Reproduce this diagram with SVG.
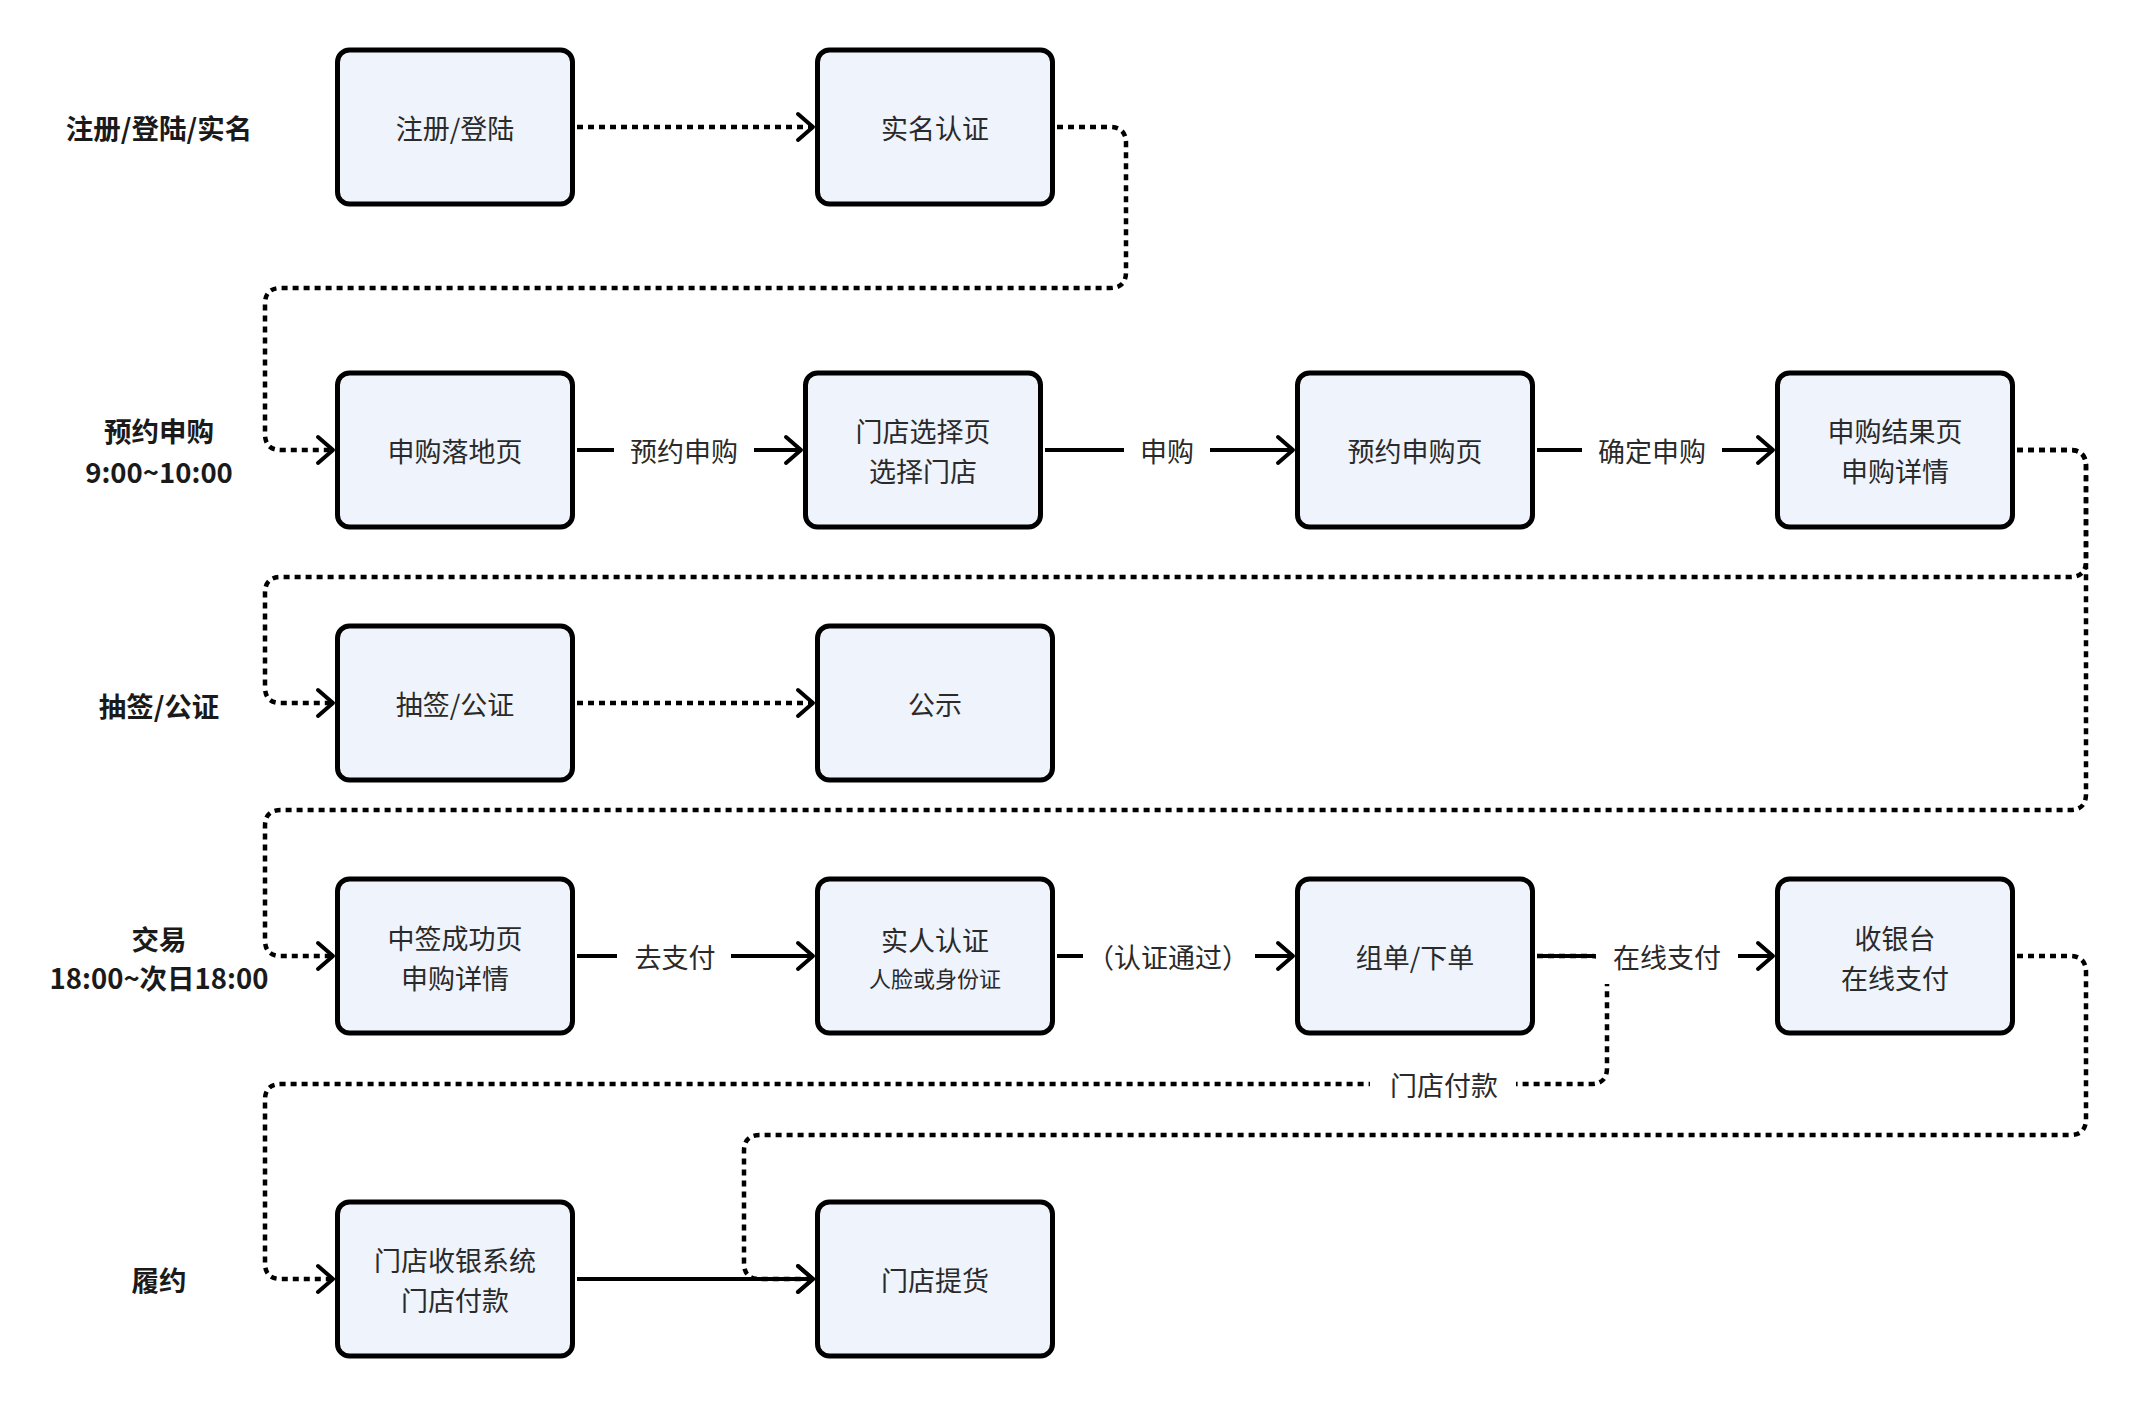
<svg xmlns="http://www.w3.org/2000/svg" width="2150" height="1406" viewBox="0 0 2150 1406">
<style>
.node rect{fill:#EEF3FC;stroke:#000;stroke-width:5}
.nt{font-family:"Noto Sans CJK SC","Noto Sans",sans-serif;font-size:27px;fill:#2a2a2a;text-anchor:middle;dominant-baseline:central}
.nts{font-size:22px}
.lane{font-family:"Noto Sans CJK SC","Noto Sans",sans-serif;font-size:27.5px;font-weight:bold;fill:#1a1a1a;text-anchor:middle;dominant-baseline:central}
.e{fill:none;stroke:#000;stroke-width:4}
.d{stroke-width:4.5;stroke-dasharray:6 5}
.lb{fill:#fff}
.lt{font-family:"Noto Sans CJK SC","Noto Sans",sans-serif;font-size:27px;fill:#2a2a2a;text-anchor:middle;dominant-baseline:central}
</style>
<defs>
<marker id="arr" markerUnits="userSpaceOnUse" markerWidth="40" markerHeight="40" viewBox="-20 -20 40 40" refX="0" refY="0" orient="auto">
<path d="M-15,-13 L0,0 L-15,13" fill="none" stroke="#000" stroke-width="4" stroke-linecap="round" stroke-linejoin="round" stroke-dasharray="none"/>
</marker>
</defs>
<rect width="2150" height="1406" fill="#fff"/>
<g id="lanes">
<text class="lane" x="159" y="127">注册/登陆/实名</text>
<text class="lane" x="159" y="430">预约申购</text>
<text class="lane" x="159" y="471">9:00~10:00</text>
<text class="lane" x="159" y="705">抽签/公证</text>
<text class="lane" x="159" y="938">交易</text>
<text class="lane" x="159" y="977">18:00~次日18:00</text>
<text class="lane" x="159" y="1279">履约</text>
</g>
<g id="connectors">
<path class="e d" d="M577,127 H813" marker-end="url(#arr)"/>
<path class="e d" d="M1057,127 H1110 Q1126,127 1126,143 V272 Q1126,288 1110,288 H281 Q265,288 265,304 V434 Q265,450 281,450 H333" marker-end="url(#arr)"/>
<path class="e" d="M577,450 H801" marker-end="url(#arr)"/>
<path class="e" d="M1045,450 H1293" marker-end="url(#arr)"/>
<path class="e" d="M1537,450 H1773" marker-end="url(#arr)"/>
<path class="e d" d="M2017,450 H2070 Q2086,450 2086,466 V561 Q2086,577 2070,577 H281 Q265,577 265,593 V687 Q265,703 281,703 H333" marker-end="url(#arr)"/>
<path class="e d" d="M577,703 H813" marker-end="url(#arr)"/>
<path class="e d" d="M2017,450 H2070 Q2086,450 2086,466 V794 Q2086,810 2070,810 H281 Q265,810 265,826 V940 Q265,956 281,956 H333" marker-end="url(#arr)"/>
<path class="e" d="M577,956 H813" marker-end="url(#arr)"/>
<path class="e" d="M1057,956 H1293" marker-end="url(#arr)"/>
<path class="e" d="M1537,956 H1773" marker-end="url(#arr)"/>
<path class="e d" d="M1537,956 H1591 Q1607,956 1607,972 V1068 Q1607,1084 1591,1084 H281 Q265,1084 265,1100 V1263 Q265,1279 281,1279 H333" marker-end="url(#arr)"/>
<path class="e d" d="M2017,956 H2070 Q2086,956 2086,972 V1119 Q2086,1135 2070,1135 H760 Q744,1135 744,1151 V1263 Q744,1279 760,1279 H813" marker-end="url(#arr)"/>
<path class="e" d="M577,1279 H813" marker-end="url(#arr)"/>
<g id="edge-labels">
<rect class="lb" x="614" y="424" width="140" height="52"/>
<text class="lt" x="684" y="450">预约申购</text>
<rect class="lb" x="1124" y="424" width="86" height="52"/>
<text class="lt" x="1167" y="450">申购</text>
<rect class="lb" x="1582" y="424" width="140" height="52"/>
<text class="lt" x="1652" y="450">确定申购</text>
<rect class="lb" x="617" y="930" width="114" height="52"/>
<text class="lt" x="675" y="956">去支付</text>
<rect class="lb" x="1083" y="930" width="172" height="52"/>
<text class="lt nts" x="1168" y="956">（认证通过）</text>
<rect class="lb" x="1596" y="930" width="142" height="54"/>
<text class="lt" x="1667" y="956">在线支付</text>
<rect class="lb" x="1370" y="1058" width="146" height="52"/>
<text class="lt" x="1444" y="1084">门店付款</text>
</g>
</g>
<g id="n-register" class="node"><rect x="337.5" y="50" width="235" height="154" rx="12"/><text class="nt" x="455" y="127">注册/登陆</text></g>
<g id="n-realname" class="node"><rect x="817.5" y="50" width="235" height="154" rx="12"/><text class="nt" x="935" y="127">实名认证</text></g>
<g id="n-landing" class="node"><rect x="337.5" y="373" width="235" height="154" rx="12"/><text class="nt" x="455" y="450">申购落地页</text></g>
<g id="n-store" class="node"><rect x="805.5" y="373" width="235" height="154" rx="12"/><text class="nt" x="923" y="430">门店选择页</text><text class="nt" x="923" y="470">选择门店</text></g>
<g id="n-reserve" class="node"><rect x="1297.5" y="373" width="235" height="154" rx="12"/><text class="nt" x="1415" y="450">预约申购页</text></g>
<g id="n-result" class="node"><rect x="1777.5" y="373" width="235" height="154" rx="12"/><text class="nt" x="1895" y="430">申购结果页</text><text class="nt" x="1895" y="470">申购详情</text></g>
<g id="n-draw" class="node"><rect x="337.5" y="626" width="235" height="154" rx="12"/><text class="nt" x="455" y="703">抽签/公证</text></g>
<g id="n-publish" class="node"><rect x="817.5" y="626" width="235" height="154" rx="12"/><text class="nt" x="935" y="703">公示</text></g>
<g id="n-win" class="node"><rect x="337.5" y="879" width="235" height="154" rx="12"/><text class="nt" x="455" y="937">中签成功页</text><text class="nt" x="455" y="977">申购详情</text></g>
<g id="n-verify" class="node"><rect x="817.5" y="879" width="235" height="154" rx="12"/><text class="nt" x="935" y="939">实人认证</text><text class="nt nts" x="935" y="977">人脸或身份证</text></g>
<g id="n-order" class="node"><rect x="1297.5" y="879" width="235" height="154" rx="12"/><text class="nt" x="1415" y="956">组单/下单</text></g>
<g id="n-cashier" class="node"><rect x="1777.5" y="879" width="235" height="154" rx="12"/><text class="nt" x="1895" y="937">收银台</text><text class="nt" x="1895" y="977">在线支付</text></g>
<g id="n-pos" class="node"><rect x="337.5" y="1202" width="235" height="154" rx="12"/><text class="nt" x="455" y="1259">门店收银系统</text><text class="nt" x="455" y="1299">门店付款</text></g>
<g id="n-pickup" class="node"><rect x="817.5" y="1202" width="235" height="154" rx="12"/><text class="nt" x="935" y="1279">门店提货</text></g>
</svg>
